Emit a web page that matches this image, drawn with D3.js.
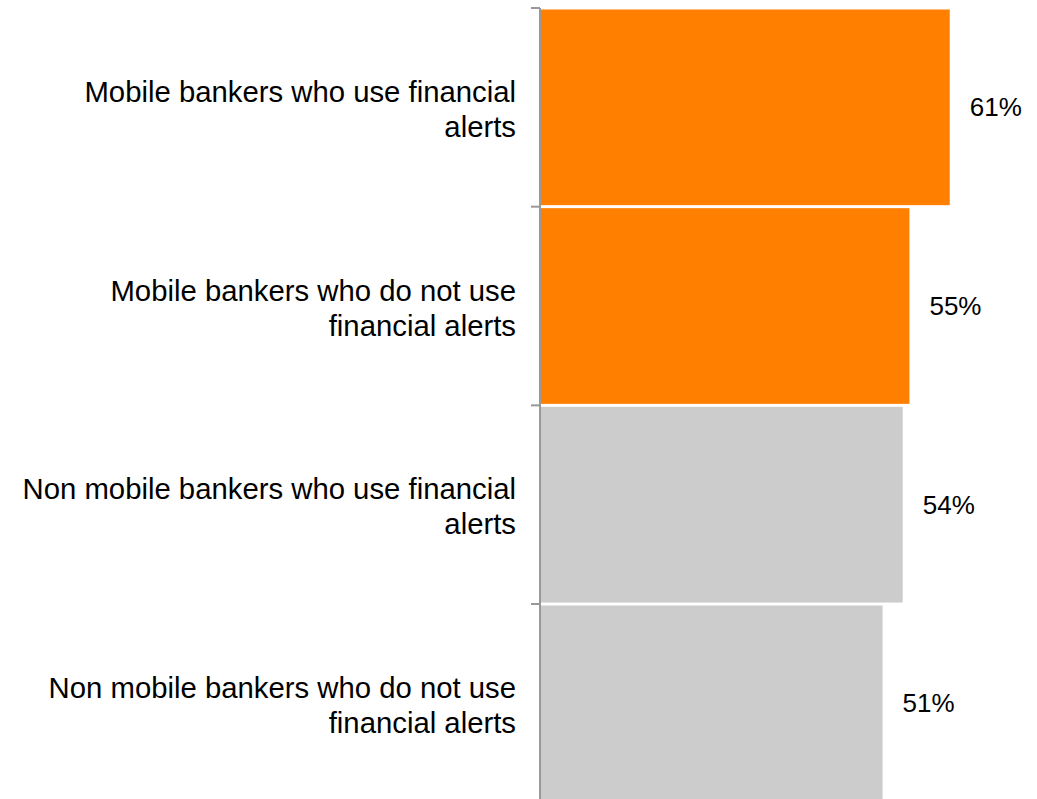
<!DOCTYPE html>
<html>
<head>
<meta charset="utf-8">
<script src="https://cdn.jsdelivr.net/npm/d3@7"></script>
<style>
  html, body { margin: 0; padding: 0; background: #fff; }
  svg { display: block; font-family: "Liberation Sans", Arial, sans-serif; }
</style>
</head>
<body>
<svg id="chart" width="1037" height="799"></svg>
<script>
// Share of respondents by mobile banking / alert usage
const categories = [
  "Mobile bankers who use financial alerts",
  "Mobile bankers who do not use financial alerts",
  "Non mobile bankers who use financial alerts",
  "Non mobile bankers who do not use financial alerts"
];
const values = [61, 55, 54, 51];
const barColors = ["#FF7F00", "#FF7F00", "#CCCCCC", "#CCCCCC"];

const svg = d3.select("#chart");

const x = d3.scaleLinear().domain([0, 70]).range([540, 1010.2]);
const y = d3.scaleBand()
  .domain(categories)
  .range([8, 802.7])
  .paddingInner(0.015)
  .paddingOuter(0.0075);

const step = y.step();

// bars
svg.append("g")
  .selectAll("rect")
  .data(categories)
  .join("rect")
  .attr("x", x(0))
  .attr("y", d => y(d))
  .attr("width", (d, i) => x(values[i]) - x(0))
  .attr("height", y.bandwidth())
  .attr("fill", (d, i) => barColors[i]);

// vertical axis line with ticks at band boundaries
const axis = svg.append("g");
axis.append("line")
  .attr("x1", x(0)).attr("x2", x(0))
  .attr("y1", y.range()[0]).attr("y2", y.range()[1])
  .attr("stroke", "#999").attr("stroke-width", 2);
const boundaries = d3.range(categories.length + 1).map(i => y.range()[0] + i * step);
axis.selectAll("line.tick")
  .data(boundaries)
  .join("line")
  .attr("class", "tick")
  .attr("x1", x(0) - 9).attr("x2", x(0))
  .attr("y1", d => d).attr("y2", d => d)
  .attr("stroke", "#999").attr("stroke-width", 2);

// value labels
svg.append("g")
  .selectAll("text")
  .data(categories)
  .join("text")
  .attr("x", (d, i) => x(values[i]) + 20)
  .attr("y", d => y(d) + y.bandwidth() / 2)
  .attr("dy", "0.35em")
  .attr("font-size", 26)
  .attr("fill", "#000")
  .text((d, i) => values[i] + "%");

// category labels, wrapped and right-aligned
const fontSize = 29.3;
const lineHeight = 35;
const maxWidth = 505;
const catG = svg.append("g");
categories.forEach(cat => {
  const t = catG.append("text")
    .attr("text-anchor", "end")
    .attr("font-size", fontSize)
    .attr("fill", "#000");
  const words = cat.split(" ");
  const lines = [];
  let line = [];
  const probe = svg.append("text").attr("font-size", fontSize);
  words.forEach(w => {
    const trial = line.concat([w]).join(" ");
    probe.text(trial);
    if (probe.node().getComputedTextLength() > maxWidth && line.length) {
      lines.push(line.join(" "));
      line = [w];
    } else {
      line.push(w);
    }
  });
  lines.push(line.join(" "));
  probe.remove();
  const cy = y(cat) + y.bandwidth() / 2 + 2;
  const startY = cy - (lines.length - 1) * lineHeight / 2;
  lines.forEach((l, k) => {
    t.append("tspan")
      .attr("x", 516)
      .attr("y", startY + k * lineHeight)
      .attr("dy", "0.35em")
      .text(l);
  });
});
</script>
</body>
</html>
